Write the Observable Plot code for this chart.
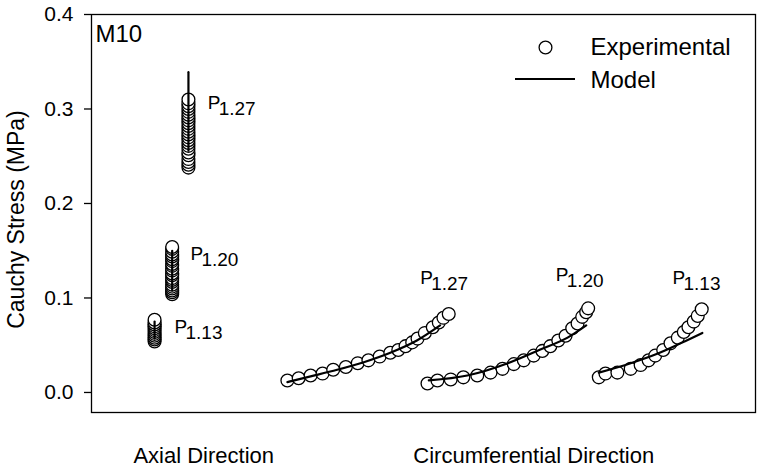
<!DOCTYPE html>
<html><head><meta charset="utf-8">
<script src="https://cdn.jsdelivr.net/npm/d3@7"></script>
<script src="https://cdn.jsdelivr.net/npm/@observablehq/plot@0.6"></script>
<style>body{margin:0;background:#fff;} #chart svg{display:block}</style>
</head><body><div id="chart"></div>
<script>
// ---------- data (x is an abstract position along the panel) ----------
const groups = ["1.13", "1.20", "1.27"];
const axialX = [9.5, 12.15, 14.6];
const axialExp113 = [0.054, 0.056, 0.058, 0.060, 0.062, 0.064, 0.066, 0.068, 0.070, 0.072, 0.074, 0.077];
const axialExp120 = [0.104, 0.106, 0.108, 0.110, 0.112, 0.114, 0.117, 0.119, 0.121, 0.124, 0.126, 0.129, 0.131, 0.134, 0.136, 0.139, 0.141, 0.144, 0.146, 0.149, 0.152, 0.154];
const axialExp127 = [0.238, 0.241, 0.244, 0.247, 0.251, 0.254, 0.258, 0.261, 0.264, 0.267, 0.270, 0.273, 0.276, 0.279, 0.282, 0.285, 0.288, 0.291, 0.294, 0.297, 0.300, 0.303, 0.306, 0.310];
const axialModelLow = [0.057, 0.108, 0.256];
const axialModelHigh = [0.075, 0.150, 0.339];

const circX127 = [29.5, 31.2, 33.0, 34.8, 36.4, 38.3, 40.1, 41.7, 43.4, 45.0, 46.2, 47.3, 48.3, 49.1, 50.2, 51.4, 52.3, 53.0, 53.8];
const circY127 = [0.0127, 0.015, 0.018, 0.020, 0.024, 0.027, 0.031, 0.034, 0.038, 0.042, 0.045, 0.049, 0.053, 0.057, 0.063, 0.069, 0.074, 0.079, 0.083];
const circX120 = [50.6, 52.1, 54.1, 56.0, 58.1, 60.1, 61.9, 63.6, 65.1, 66.6, 67.9, 69.1, 70.3, 71.4, 72.4, 73.2, 73.9, 74.5, 74.8];
const circY120 = [0.0095, 0.0127, 0.0138, 0.016, 0.018, 0.021, 0.025, 0.030, 0.034, 0.039, 0.044, 0.049, 0.055, 0.060, 0.068, 0.073, 0.080, 0.085, 0.089];
const circX113 = [76.4, 77.4, 79.2, 81.2, 82.7, 83.9, 84.9, 86.1, 87.2, 88.3, 89.2, 89.9, 90.7, 91.3, 91.9];
const circY113 = [0.016, 0.020, 0.021, 0.025, 0.029, 0.034, 0.039, 0.045, 0.052, 0.058, 0.064, 0.069, 0.075, 0.081, 0.088];

const modelX127 = [29.5, 33.0, 37.0, 41.0, 45.0, 49.0, 52.5];
const modelY127 = [0.011, 0.017, 0.024, 0.032, 0.042, 0.055, 0.071];
const modelX120 = [50.8, 56.6, 62.7, 67.6, 71.7, 74.5];
const modelY120 = [0.0127, 0.018, 0.031, 0.0455, 0.058, 0.071];
const modelX113 = [76.4, 81.2, 85.2, 88.7, 92.0];
const modelY113 = [0.021, 0.031, 0.041, 0.052, 0.063];

const labelSub = ["1.13", "1.20", "1.27", "1.27", "1.20", "1.13"];
const labelX = [12.5, 14.9, 17.5, 49.5, 69.9, 87.5];
const labelY = [0.069, 0.147, 0.306, 0.121, 0.124, 0.121];

const yTicks = [0.0, 0.1, 0.2, 0.3, 0.4];
const directionX = [16.9, 66.6];
const directionLabels = ["Axial Direction", "Circumferential Direction"];
const panelName = "M10";
const legendNames = ["Experimental", "Model"];
const yLabel = "Cauchy Stress (MPa)";

// ---------- tables ----------
const exp = [];
[axialExp113, axialExp120, axialExp127].forEach((vals, g) =>
  vals.forEach(v => exp.push({x: axialX[g], y: v, s: "a" + groups[g]})));
[[circX127, circY127, "c1.27"], [circX120, circY120, "c1.20"], [circX113, circY113, "c1.13"]].forEach(([xs, ys, s]) =>
  xs.forEach((x, i) => exp.push({x, y: ys[i], s})));

const modelAxial = [];
groups.forEach((g, i) => {
  modelAxial.push({x: axialX[i], y: axialModelLow[i], s: "a" + g});
  modelAxial.push({x: axialX[i], y: axialModelHigh[i], s: "a" + g});
});
const modelCirc = [];
[[modelX127, modelY127, "c1.27"], [modelX120, modelY120, "c1.20"], [modelX113, modelY113, "c1.13"]].forEach(([xs, ys, s]) =>
  xs.forEach((x, i) => modelCirc.push({x, y: ys[i], s})));

const labels = labelSub.map((sub, i) => ({x: labelX[i], y: labelY[i], sub}));

// ---------- layout ----------
const W = 762, H = 468, ML = 91, MR = 7, MT = 14, MB = 56;
const FONT = "'Liberation Sans', Arial, Helvetica, sans-serif";

const legendMark = () => {
  const g = d3.create("svg:g");
  const xr = W - MR;
  g.append("line").attr("x1", xr - 240).attr("x2", xr - 180)
    .attr("y1", MT + 65).attr("y2", MT + 65)
    .attr("stroke", "black").attr("stroke-width", 2.2);
  return g.node();
};

const chart = Plot.plot({
  width: W, height: H,
  marginLeft: ML, marginRight: MR, marginTop: MT, marginBottom: MB,
  style: {fontFamily: FONT, color: "black", background: "white"},
  x: {domain: [0, 100]},
  y: {domain: [-0.0212, 0.4]},
  marks: [
    Plot.axisY({ticks: yTicks, tickFormat: d3.format(".1f"), tickSize: 7, tickPadding: 11, fontSize: 21, label: null, strokeWidth: 1.3}),
    Plot.axisX({ticks: directionX, tickFormat: d => directionLabels[directionX.indexOf(d)], tickSize: 0, tickPadding: 35, fontSize: 22, label: null}),
    Plot.text([yLabel], {frameAnchor: "left", dx: -75, dy: 6, rotate: -90, fontSize: 23, textAnchor: "middle"}),
    Plot.dot(exp, {x: "x", y: "y", r: 6.4, fill: "white", stroke: "black", strokeWidth: 1.3}),
    Plot.line(modelAxial, {x: "x", y: "y", z: "s", stroke: "black", strokeWidth: 2.2}),
    Plot.line(modelCirc, {x: "x", y: "y", z: "s", stroke: "black", strokeWidth: 2.2, curve: "monotone-x"}),
    Plot.text(labels, {x: "x", y: "y", text: () => "P", textAnchor: "start", fontSize: 19}),
    Plot.text(labels, {x: "x", y: "y", text: "sub", textAnchor: "start", dx: 11, dy: 6, fontSize: 19}),
    Plot.text([panelName], {frameAnchor: "top-left", textAnchor: "start", lineAnchor: "top", dx: 4, dy: 10, fontSize: 24}),
    Plot.dot([legendNames[0]], {frameAnchor: "top-right", dx: -210, dy: 33, r: 6.4, fill: "white", stroke: "black", strokeWidth: 1.3}),
    Plot.text([legendNames[0]], {frameAnchor: "top-right", textAnchor: "start", lineAnchor: "middle", dx: -165, dy: 33, fontSize: 24}),
    Plot.text([legendNames[1]], {frameAnchor: "top-right", textAnchor: "start", lineAnchor: "middle", dx: -165, dy: 66, fontSize: 24}),
    legendMark,
    Plot.frame({stroke: "black", strokeWidth: 1.3})
  ]
});
document.getElementById("chart").appendChild(chart);
</script></body></html>
